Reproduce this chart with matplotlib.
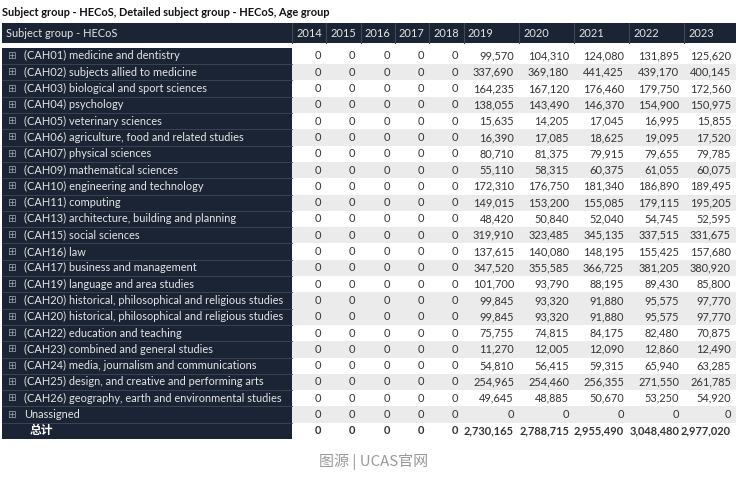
import matplotlib
matplotlib.use('Agg')
import matplotlib.pyplot as plt
from matplotlib.patches import Rectangle

plt.rcParams['font.family'] = ['Lato', 'Noto Sans CJK SC', 'DejaVu Sans']

title = 'Subject group - HECoS, Detailed subject group - HECoS, Age group'
row_header = 'Subject group - HECoS'
years = ['2014', '2015', '2016', '2017', '2018', '2019', '2020', '2021', '2022', '2023']

subjects = [
    '(CAH01) medicine and dentistry',
    '(CAH02) subjects allied to medicine',
    '(CAH03) biological and sport sciences',
    '(CAH04) psychology',
    '(CAH05) veterinary sciences',
    '(CAH06) agriculture, food and related studies',
    '(CAH07) physical sciences',
    '(CAH09) mathematical sciences',
    '(CAH10) engineering and technology',
    '(CAH11) computing',
    '(CAH13) architecture, building and planning',
    '(CAH15) social sciences',
    '(CAH16) law',
    '(CAH17) business and management',
    '(CAH19) language and area studies',
    '(CAH20) historical, philosophical and religious studies',
    '(CAH20) historical, philosophical and religious studies',
    '(CAH22) education and teaching',
    '(CAH23) combined and general studies',
    '(CAH24) media, journalism and communications',
    '(CAH25) design, and creative and performing arts',
    '(CAH26) geography, earth and environmental studies',
    'Unassigned',
]
total_label = '总计'

v2014 = [0, 0, 0, 0, 0, 0, 0, 0, 0, 0, 0, 0, 0, 0, 0, 0, 0, 0, 0, 0, 0, 0, 0]
v2015 = [0, 0, 0, 0, 0, 0, 0, 0, 0, 0, 0, 0, 0, 0, 0, 0, 0, 0, 0, 0, 0, 0, 0]
v2016 = [0, 0, 0, 0, 0, 0, 0, 0, 0, 0, 0, 0, 0, 0, 0, 0, 0, 0, 0, 0, 0, 0, 0]
v2017 = [0, 0, 0, 0, 0, 0, 0, 0, 0, 0, 0, 0, 0, 0, 0, 0, 0, 0, 0, 0, 0, 0, 0]
v2018 = [0, 0, 0, 0, 0, 0, 0, 0, 0, 0, 0, 0, 0, 0, 0, 0, 0, 0, 0, 0, 0, 0, 0]
v2019 = [99570, 337690, 164235, 138055, 15635, 16390, 80710, 55110, 172310, 149015,
         48420, 319910, 137615, 347520, 101700, 99845, 99845, 75755, 11270, 54810,
         254965, 49645, 0]
v2020 = [104310, 369180, 167120, 143490, 14205, 17085, 81375, 58315, 176750, 153200,
         50840, 323485, 140080, 355585, 93790, 93320, 93320, 74815, 12005, 56415,
         254460, 48885, 0]
v2021 = [124080, 441425, 176460, 146370, 17045, 18625, 79915, 60375, 181340, 155085,
         52040, 345135, 148195, 366725, 88195, 91880, 91880, 84175, 12090, 59315,
         256355, 50670, 0]
v2022 = [131895, 439170, 179750, 154900, 16995, 19095, 79655, 61055, 186890, 179115,
         54745, 337515, 155425, 381205, 89430, 95575, 95575, 82480, 12860, 65940,
         271550, 53250, 0]
v2023 = [125620, 400145, 172560, 150975, 15855, 17520, 79785, 60075, 189495, 195205,
         52595, 331675, 157680, 380920, 85800, 97770, 97770, 70875, 12490, 63285,
         261785, 54920, 0]
totals = [0, 0, 0, 0, 0, 2730165, 2788715, 2955490, 3048480, 2977020]

columns = [v2014, v2015, v2016, v2017, v2018, v2019, v2020, v2021, v2022, v2023]

# layout (pixel coordinates)
DARK = '#1b2434'
LINE = '#3e4859'
GRAY = '#ebebeb'
col_edges = [292, 326.3, 360.6, 394.9, 429.2, 463.5, 519, 574, 629, 684, 739]
x0 = 2
head_top, head_bot = 23, 43
row_top, row_h = 47.8, 16.3
fs = 7.95

fig = plt.figure(figsize=(7.36, 4.78), dpi=100)
ax = fig.add_axes([0, 0, 1, 1])
ax.set_xlim(0, 736)
ax.set_ylim(478, 0)
ax.axis('off')

ax.text(x0, 12, title, fontsize=fs, fontweight='bold', va='center', ha='left', color='#111111')

# header
ax.add_patch(Rectangle((x0, head_top), 739 - x0, head_bot - head_top, color=DARK, lw=0))
hy = (head_top + head_bot) / 2
ax.text(x0 + 4, hy, row_header, fontsize=fs, color='#e6e6e6', va='center', ha='left')
for i, y in enumerate(years):
    left, right = col_edges[i], col_edges[i + 1]
    ax.plot([left, left], [head_top, head_bot], color=LINE, lw=0.8)
    ax.text(left + 4, hy, y, fontsize=fs, color='#e6e6e6', va='center', ha='left')

n_rows = len(subjects) + 1
ax.add_patch(Rectangle((x0, row_top), col_edges[0] - x0, n_rows * row_h, color=DARK, lw=0))

for r in range(n_rows):
    top = row_top + r * row_h
    yc = top + row_h / 2
    shade = (r - (1 if r >= 16 else 0)) % 2 == 1
    ax.add_patch(Rectangle((col_edges[0], top), 739 - col_edges[0], row_h,
                           color=GRAY if shade else 'white', lw=0))
    if r > 0:
        ax.plot([x0, col_edges[0]], [top, top], color=LINE, lw=0.6)
    if r < len(subjects):
        ax.text(11, yc, '\u229e', fontsize=7.5, color='#9aa1ab', va='center', ha='center',
                family='DejaVu Sans')
        ax.text(24, yc, subjects[r], fontsize=fs, color='#e6e6e6', va='center', ha='left')
        vals = [c[r] for c in columns]
        weight = 'normal'
    else:
        ax.text(30, yc, total_label, fontsize=8.5, color='white', va='center', ha='left',
                fontweight='bold', family=['Noto Sans CJK SC', 'DejaVu Sans'])
        vals = totals
        weight = 'bold'
    for i, v in enumerate(vals):
        right = min(col_edges[i + 1], 736)
        ax.text(right - 5, yc, f'{v:,}', fontsize=fs, color='#333333', va='center',
                ha='right', fontweight=weight)

ax.text(374, 462, '图源 | UCAS官网', fontsize=10.8, color='#999999', va='center', ha='center',
        family=['Noto Sans CJK SC', 'DejaVu Sans'])

fig.savefig('out.png', dpi=100)
plt.close()
